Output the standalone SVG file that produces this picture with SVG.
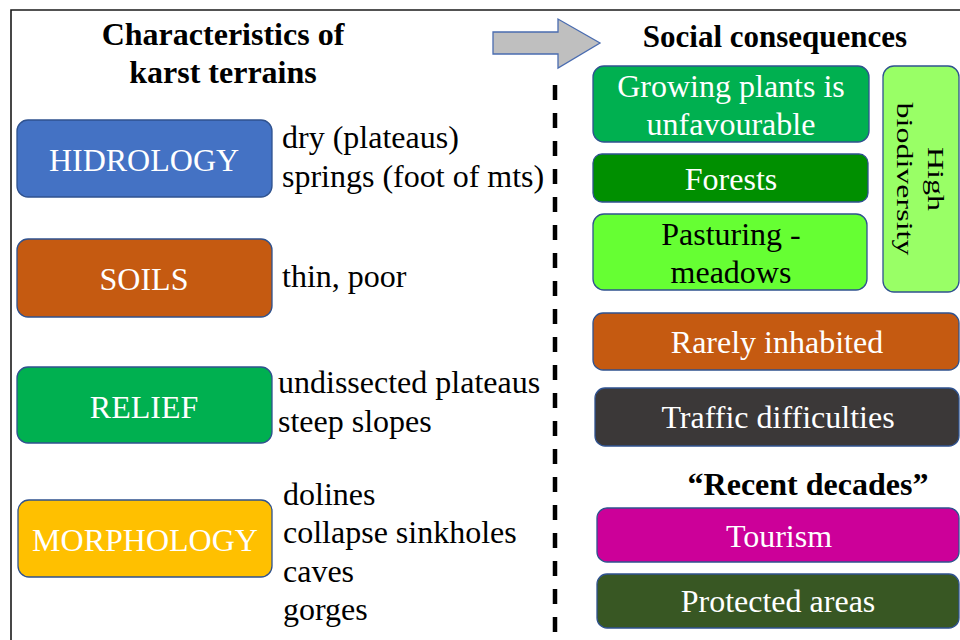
<svg xmlns="http://www.w3.org/2000/svg" width="960" height="640" viewBox="0 0 960 640">
<style>
.box{stroke:#2F528F;stroke-width:1.3}
.t{font-family:"Liberation Serif","Times New Roman",serif;font-size:32px}
.w{fill:#ffffff}
.k{fill:#000000}
.c{text-anchor:middle}
.b{font-weight:bold}
</style>
<rect width="960" height="640" fill="#ffffff"/>
<g id="frame" fill="none" stroke="#1a1a1a" stroke-width="1.6">
<path d="M11,640 V10 H960"/>
</g>
<g id="connectors">
<path d="M555,85 V640" stroke="#000" stroke-width="4.5" stroke-dasharray="15 13" fill="none"/>
<polygon points="493,32 558,32 558,19 600,43 558,68 558,54 493,54" fill="#BFBFBF" stroke="#4A6CB0" stroke-width="1.3"/>
</g>
<g id="title-left">
<text class="t b k c" x="223" y="45">Characteristics of</text>
<text class="t b k c" x="223" y="83">karst terrains</text>
</g>
<g id="title-right">
<text class="t b k c" x="775" y="47" style="font-size:31px">Social consequences</text>
</g>
<g id="hidrology">
<rect class="box" x="17" y="120" width="255" height="77" rx="11" fill="#4472C4"/>
<text class="t w c" x="144" y="171">HIDROLOGY</text>
<text class="t k" x="282" y="148">dry (plateaus)</text>
<text class="t k" x="282" y="187">springs (foot of mts)</text>
</g>
<g id="soils">
<rect class="box" x="17" y="239" width="255" height="78" rx="11" fill="#C55A11"/>
<text class="t w c" x="144" y="290">SOILS</text>
<text class="t k" x="282" y="287">thin, poor</text>
</g>
<g id="relief">
<rect class="box" x="17" y="367" width="255" height="76" rx="11" fill="#00B050"/>
<text class="t w c" x="144" y="418">RELIEF</text>
<text class="t k" x="278" y="393">undissected plateaus</text>
<text class="t k" x="278" y="432">steep slopes</text>
</g>
<g id="morphology">
<rect class="box" x="18" y="500" width="254" height="77" rx="11" fill="#FFC000"/>
<text class="t w c" x="145" y="551">MORPHOLOGY</text>
<text class="t k" x="283" y="505">dolines</text>
<text class="t k" x="283" y="543">collapse sinkholes</text>
<text class="t k" x="283" y="582">caves</text>
<text class="t k" x="283" y="620">gorges</text>
</g>
<g id="growing">
<rect class="box" x="593" y="66" width="276" height="76" rx="11" fill="#00B050"/>
<text class="t w c" x="731" y="97">Growing plants is</text>
<text class="t w c" x="731" y="135">unfavourable</text>
</g>
<g id="forests">
<rect class="box" x="593" y="154" width="275" height="48" rx="9" fill="#008F00"/>
<text class="t w c" x="731" y="190">Forests</text>
</g>
<g id="pasturing">
<rect class="box" x="593" y="214" width="274" height="76" rx="11" fill="#66FF33"/>
<text class="t k c" x="731" y="245">Pasturing -</text>
<text class="t k c" x="731" y="283">meadows</text>
</g>
<g id="biodiversity">
<rect class="box" x="883" y="66" width="76" height="226" rx="11" fill="#99FF66"/>
<text class="t k c" transform="translate(928,179) rotate(90) scale(1,0.7)">High</text>
<text class="t k c" transform="translate(897,179) rotate(90) scale(1,0.7)">biodiversity</text>
</g>
<g id="rarely">
<rect class="box" x="593" y="313" width="366" height="57" rx="10" fill="#C55A11"/>
<text class="t w c" x="777" y="353">Rarely inhabited</text>
</g>
<g id="traffic">
<rect class="box" x="595" y="388" width="364" height="58" rx="10" fill="#3B3838"/>
<text class="t w c" x="778" y="428">Traffic difficulties</text>
</g>
<g id="recent">
<text class="t b k c" x="808" y="495">“Recent decades”</text>
</g>
<g id="tourism">
<rect class="box" x="597" y="508" width="362" height="54" rx="10" fill="#CC0099"/>
<text class="t w c" x="779" y="547">Tourism</text>
</g>
<g id="protected">
<rect class="box" x="597" y="574" width="362" height="54" rx="10" fill="#385723"/>
<text class="t w c" x="778" y="612">Protected areas</text>
</g>
</svg>
